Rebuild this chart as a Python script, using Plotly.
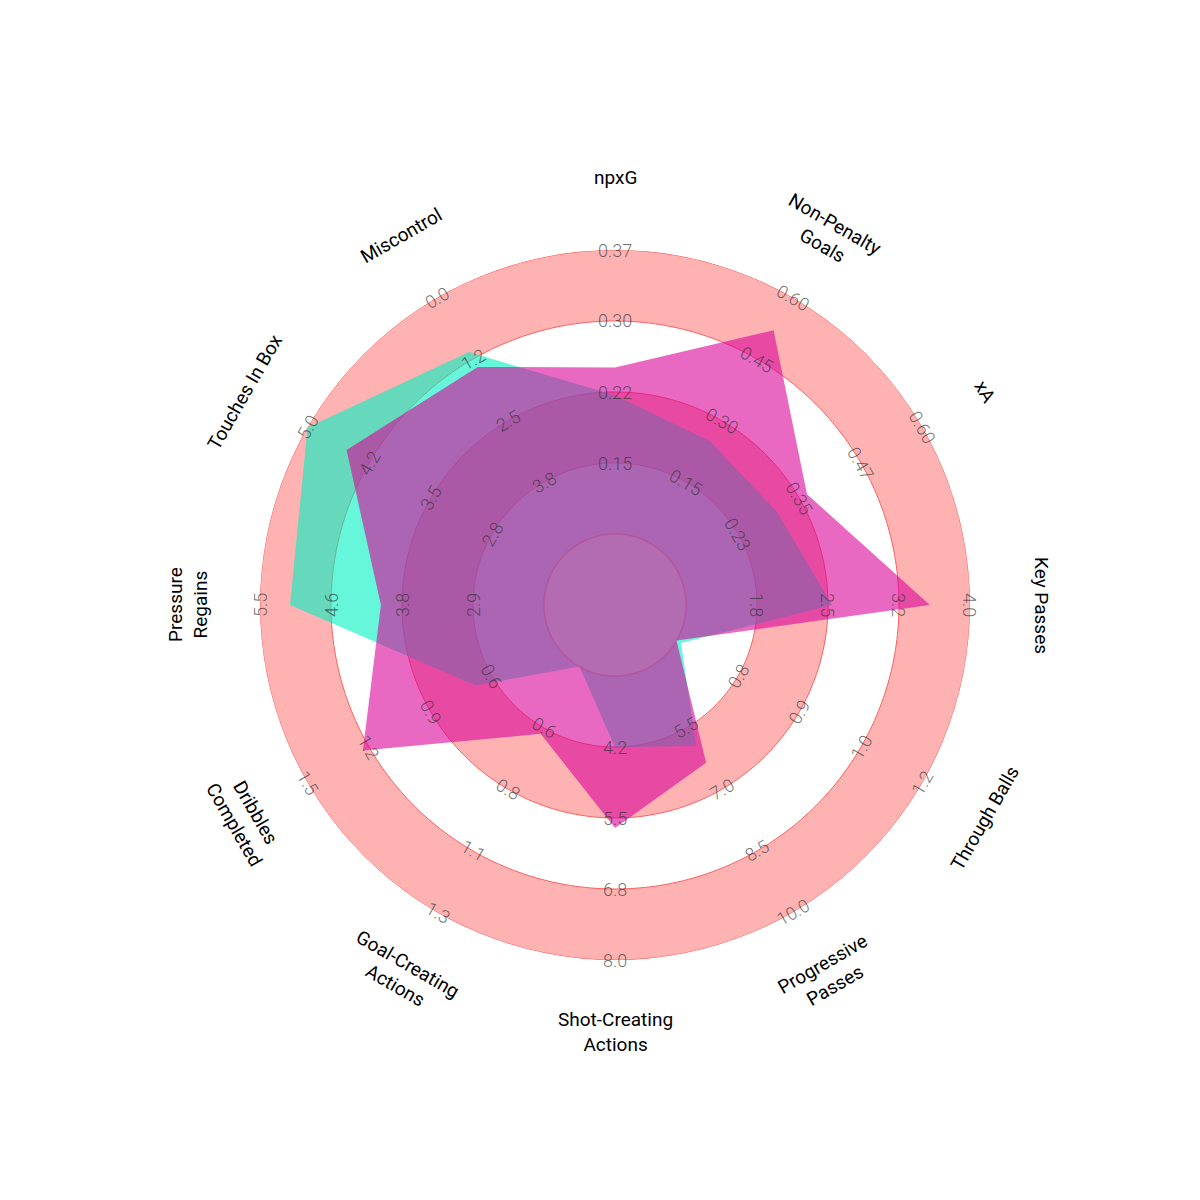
import numpy as np
import plotly.graph_objects as go

params = ["npxG", "Non-Penalty<br>Goals", "xA", "Key Passes", "Through Balls",
          "Progressive<br>Passes", "Shot-Creating<br>Actions", "Goal-Creating<br>Actions",
          "Dribbles<br>Completed", "Pressure<br>Regains", "Touches In Box", "Miscontrol"]
low = [0.075, 0.0, 0.11, 1.1, 0.65, 4.0, 2.9, 0.35, 0.3, 2.0, 2.1, 5.1]
high = [0.37, 0.60, 0.60, 4.0, 1.2, 10.0, 8.0, 1.3, 1.5, 5.5, 5.0, 0.0]
ring_labels = [
    ["0.15", "0.22", "0.30", "0.37"], ["0.15", "0.30", "0.45", "0.60"],
    ["0.23", "0.35", "0.47", "0.60"], ["1.8", "2.5", "3.2", "4.0"],
    ["0.8", "0.9", "1.0", "1.2"], ["5.5", "7.0", "8.5", "10.0"],
    ["4.2", "5.5", "6.8", "8.0"], ["0.6", "0.8", "1.1", "1.3"],
    ["0.6", "0.9", "1.2", "1.5"], ["2.9", "3.8", "4.6", "5.5"],
    ["2.8", "3.5", "4.2", "5.0"], ["3.8", "2.5", "1.2", "0.0"],
]
player_a = [0.248, 0.52, 0.37, 3.59, 0.65, 6.35, 5.63, 0.61, 1.23, 4.01, 4.54, 1.44]
player_b = [0.219, 0.25, 0.31, 2.59, 0.66, 5.94, 4.18, 0.35, 0.68, 5.13, 5.0, 1.13]

INNER = 0.2
CX, CY, R = 607, 597, 355   # page body adds an 8px offset
W = H = 1200
angles = [i * 30 for i in range(len(params))]


def scale(vals):
    out = []
    for v, lo, hi in zip(vals, low, high):
        g = (v - lo) / (hi - lo)
        out.append(INNER + (1 - INNER) * min(max(g, 0), 1))
    return out


def text_angle(a):
    if a <= 90:
        return a
    if a < 270:
        return a - 180
    return a - 360


def to_paper(r_px, a):
    rad = np.deg2rad(a)
    return (CX + r_px * np.sin(rad)) / W, 1 - (CY - r_px * np.cos(rad)) / H


fig = go.Figure()
circ = list(np.linspace(0, 360, 361))
for rr, col in [(1.0, "#ffb2b2"), (0.8, "white"), (0.6, "#ffb2b2"), (0.4, "white")]:
    fig.add_trace(go.Scatterpolar(r=[rr] * len(circ), theta=circ, mode="lines", fill="toself",
                                  fillcolor=col, line=dict(color="#fc5f5f", width=1),
                                  hoverinfo="skip", showlegend=False))

for vals, col in [(player_b, "rgba(0,242,193,0.6)"), (player_a, "rgba(216,4,153,0.6)")]:
    rv = scale(vals)
    fig.add_trace(go.Scatterpolar(r=rv + rv[:1], theta=angles + angles[:1], mode="lines",
                                  fill="toself", fillcolor=col, line=dict(width=0),
                                  showlegend=False))

fig.add_trace(go.Scatterpolar(r=[INNER] * len(circ), theta=circ, mode="lines", fill="toself",
                              fillcolor="rgba(255,178,178,0.1)",
                              line=dict(color="rgba(200,40,120,0.3)", width=1.5),
                              hoverinfo="skip", showlegend=False))

annotations = []
for i, a in enumerate(angles):
    for k, lab in enumerate(ring_labels[i]):
        frac = INNER + (1 - INNER) * (k + 1) / 4
        x, y = to_paper(frac * R, a)
        annotations.append(dict(x=x, y=y, xref="paper", yref="paper", text=lab, showarrow=False,
                                textangle=text_angle(a), xanchor="center", yanchor="middle",
                                font=dict(family="Roboto", size=18, weight=300,
                                          color="rgba(50,50,50,0.7)")))
    x, y = to_paper(427, a)
    annotations.append(dict(x=x, y=y, xref="paper", yref="paper", text=params[i], showarrow=False,
                            textangle=text_angle(a), xanchor="center", yanchor="middle",
                            font=dict(family="Roboto", size=19, color="black")))

fig.update_layout(
    width=W, height=H, margin=dict(l=0, r=0, t=0, b=0),
    paper_bgcolor="white", showlegend=False,
    polar=dict(
        domain=dict(x=[(CX - R) / W, (CX + R) / W], y=[1 - (CY + R) / H, 1 - (CY - R) / H]),
        bgcolor="rgba(0,0,0,0)",
        radialaxis=dict(range=[0, 1], visible=False),
        angularaxis=dict(rotation=90, direction="clockwise", visible=False),
    ),
    annotations=annotations,
)
fig.write_html("out.html")
